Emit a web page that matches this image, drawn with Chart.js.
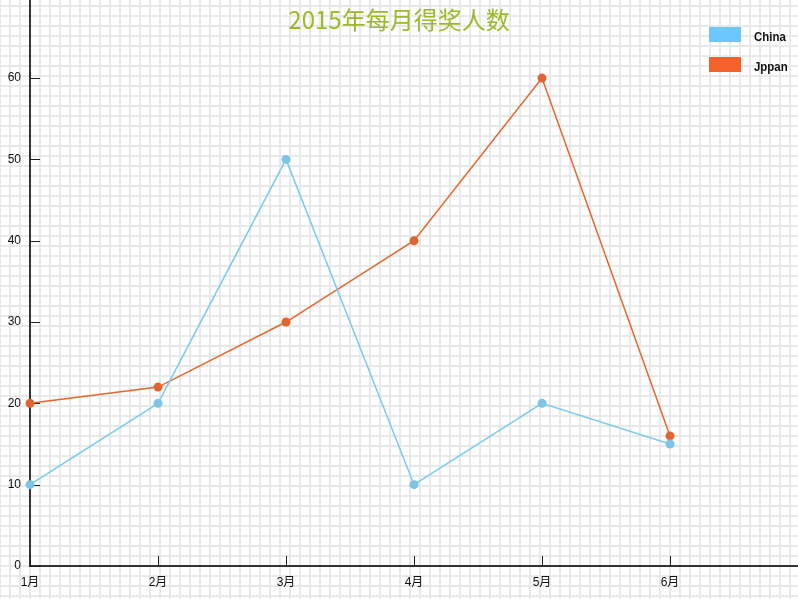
<!DOCTYPE html>
<html>
<head>
<meta charset="utf-8">
<title>2015年每月得奖人数</title>
<script src="https://cdn.jsdelivr.net/npm/chart.js@4.4.0/dist/chart.umd.min.js"></script>
<style>
  html, body { margin: 0; padding: 0; }
  #wrap {
    position: relative;
    width: 798px;
    height: 599px;
    overflow: hidden;
    background-color: #fff;
    background-image:
      linear-gradient(to right, #e9e9e9 2px, transparent 2px),
      linear-gradient(to bottom, #e9e9e9 2px, transparent 2px);
    background-size: 10px 10px;
    background-position: 9px 5px;
  }
  #awardChart { position: absolute; left: 0; top: 0; }
  #title {
    position: absolute;
    left: 0; top: 4px;
    width: 798px;
    text-align: center;
    font-family: "Noto Sans CJK SC", sans-serif;
    font-size: 24px;
    line-height: 30px;
    color: #9cba28;
  }
  #legend {
    position: absolute;
    left: 709px; top: 27px;
    font-family: "Liberation Sans", sans-serif;
    font-weight: bold;
    font-size: 13px;
    color: #111;
  }
  .legend-item { display: flex; align-items: center; height: 15px; margin-bottom: 15px; }
  .legend-box { width: 32px; height: 15px; margin-right: 13px; }
  .legend-text { display: inline-block; transform: scaleX(0.88); transform-origin: left center; padding-top: 3px; }
</style>
</head>
<body>
<div id="wrap">
  <canvas id="awardChart" width="798" height="599"></canvas>
  <div id="title">2015年每月得奖人数</div>
  <div id="legend"></div>
</div>
<script>
// Chart data
const months = ['1月', '2月', '3月', '4月', '5月', '6月'];
const chinaValues = [10, 20, 50, 10, 20, 15];
const japanValues = [20, 22, 30, 40, 60, 16];
const yTicks = [0, 10, 20, 30, 40, 50, 60];
const seriesNames = ['China', 'Jppan'];

// Small tick marks drawn inside the axes
const insideTicks = {
  id: 'insideTicks',
  beforeDatasetsDraw(chart) {
    const { ctx, scales: { x, y } } = chart;
    ctx.save();
    ctx.strokeStyle = '#222';
    ctx.lineWidth = 1;
    ctx.beginPath();
    yTicks.forEach(v => {
      const py = Math.round(y.getPixelForValue(v)) + 0.5;
      ctx.moveTo(x.left, py);
      ctx.lineTo(x.left + 10, py);
    });
    months.forEach((m, i) => {
      const px = Math.round(x.getPixelForValue(i)) + 0.5;
      ctx.moveTo(px, y.bottom);
      ctx.lineTo(px, y.bottom - 10);
    });
    ctx.stroke();
    ctx.restore();
  }
};

const tickFont = { family: '"Liberation Sans", "Noto Sans CJK SC", sans-serif', size: 12 };

const ctx = document.getElementById('awardChart').getContext('2d');
const awardChart = new Chart(ctx, {
  type: 'line',
  data: {
    datasets: [
      {
        label: seriesNames[0],
        data: chinaValues.map((v, i) => ({ x: i, y: v })),
        borderColor: '#7ccbe8',
        backgroundColor: '#7cc4e8',
        legendColor: '#6cc8fc',
        borderWidth: 1.5,
        pointRadius: 4.5,
        pointBorderWidth: 0,
        pointBackgroundColor: '#7cc4e8',
        tension: 0,
        clip: false
      },
      {
        label: seriesNames[1],
        data: japanValues.map((v, i) => ({ x: i, y: v })),
        borderColor: '#e4672e',
        backgroundColor: '#e4672e',
        legendColor: '#f5612a',
        borderWidth: 1.5,
        pointRadius: 4.5,
        pointBorderWidth: 0,
        pointBackgroundColor: '#e0652f',
        tension: 0,
        clip: false
      }
    ]
  },
  options: {
    responsive: false,
    animation: false,
    layout: { padding: 0, autoPadding: false },
    plugins: {
      legend: { display: false },
      title: { display: false },
      tooltip: { enabled: false }
    },
    scales: {
      x: {
        type: 'linear',
        min: 0,
        max: 6,
        afterFit: scale => {
          scale.height = 33;
          scale.paddingLeft = 0;
          scale.paddingRight = 0;
        },
        afterBuildTicks: scale => { scale.ticks = months.map((m, i) => ({ value: i })); },
        grid: { display: false, drawTicks: false },
        border: { display: true, color: '#333', width: 2 },
        ticks: {
          color: '#111',
          font: tickFont,
          padding: 9,
          maxRotation: 0,
          callback: value => months[value] || ''
        }
      },
      y: {
        type: 'linear',
        min: 0,
        max: 69.6,
        afterFit: scale => {
          scale.width = 30;
          scale.paddingTop = 0;
          scale.paddingBottom = 0;
        },
        afterBuildTicks: scale => { scale.ticks = yTicks.map(v => ({ value: v })); },
        grid: { display: false, drawTicks: false },
        border: { display: true, color: '#333', width: 2 },
        ticks: {
          color: '#111',
          font: tickFont,
          padding: 9
        }
      }
    }
  },
  plugins: [insideTicks]
});

// HTML legend built from the datasets
const legendEl = document.getElementById('legend');
awardChart.data.datasets.forEach(ds => {
  const item = document.createElement('div');
  item.className = 'legend-item';
  const box = document.createElement('span');
  box.className = 'legend-box';
  box.style.background = ds.legendColor;
  const label = document.createElement('span');
  label.className = 'legend-text';
  label.textContent = ds.label;
  item.appendChild(box);
  item.appendChild(label);
  legendEl.appendChild(item);
});
</script>
</body>
</html>
